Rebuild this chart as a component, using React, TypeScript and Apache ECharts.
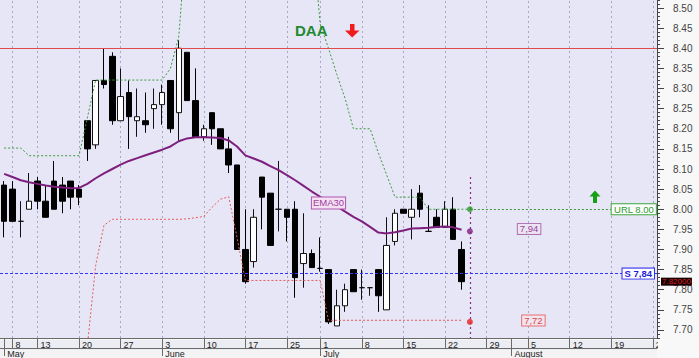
import React, { useEffect, useRef } from 'react';
import * as echarts from 'echarts';

const FONT = '"Liberation Sans", Arial, sans-serif';

// trading days (2013), including the empty future part of the axis
const dates = [
  '05-07', '05-08', '05-09', '05-10', '05-13', '05-14', '05-15', '05-16', '05-17', '05-20',
  '05-21', '05-22', '05-23', '05-24', '05-27', '05-28', '05-29', '05-30', '05-31',
  '06-03', '06-04', '06-05', '06-06', '06-07', '06-10', '06-11', '06-12', '06-13', '06-14',
  '06-17', '06-18', '06-19', '06-20', '06-21', '06-25', '06-26', '06-27', '06-28',
  '07-01', '07-02', '07-03', '07-04', '07-05', '07-08', '07-09', '07-10', '07-11', '07-12',
  '07-15', '07-16', '07-17', '07-18', '07-19', '07-22', '07-23', '07-24', '07-25', '07-26',
  '07-29', '07-30', '07-31',
  '08-01', '08-02', '08-05', '08-06', '08-07', '08-08', '08-09', '08-12', '08-13', '08-14',
  '08-15', '08-16', '08-19', '08-20', '08-21', '08-22', '08-23', '08-26',
];

const weekTicks = [
  '05-08', '05-13', '05-20', '05-27', '06-03', '06-10', '06-17', '06-25',
  '07-01', '07-08', '07-15', '07-22', '07-29', '08-05', '08-12', '08-19', '08-26',
];
const monthStarts = ['05-07', '06-03', '07-01', '08-01'];
const monthNames = ['May', 'June', 'July', 'August'];

const opens = [
  8.06, 8.05, 7.97, 8.00, 8.07, 8.02, 8.07, 8.06, 8.07, 8.05,
  8.22, 8.16, 8.32, 8.38, 8.22, 8.29, 8.22, 8.22, 8.25, 8.26,
  8.32, 8.24, 8.39, 8.27, 8.18, 8.24, 8.20, 8.15, 8.11, 7.90,
  7.87, 8.08, 8.04, 8.00, 8.00, 8.00, 7.865, 7.89, 7.853, 7.85,
  7.71, 7.76, 7.85, 7.805, 7.805, 7.85, 7.75, 7.92, 8.00, 7.98,
  8.04, 7.945, 7.98, 7.955, 8.00, 7.90,
];
const closes = [
  7.97, 7.97, 7.97, 8.02, 8.02, 7.98, 8.00, 8.02, 8.03, 8.03,
  8.15, 8.32, 8.31, 8.22, 8.28, 8.23, 8.23, 8.21, 8.26, 8.29,
  8.20, 8.40, 8.27, 8.18, 8.20, 8.20, 8.15, 8.11, 7.90, 7.82,
  7.98, 8.03, 7.91, 8.00, 7.98, 7.83, 7.89, 7.855, 7.853, 7.72,
  7.76, 7.80, 7.795, 7.805, 7.805, 7.785, 7.91, 7.99, 7.99, 8.00,
  8.00, 7.945, 7.955, 8.00, 7.925, 7.82,
];
const lows = [
  7.93, 7.97, 7.93, 8.00, 8.00, 7.98, 8.00, 7.99, 8.00, 8.01,
  8.12, 8.15, 8.30, 8.21, 8.22, 8.15, 8.18, 8.19, 8.20, 8.21,
  8.19, 8.17, 8.27, 8.18, 8.17, 8.16, 8.15, 8.09, 7.90, 7.815,
  7.855, 7.95, 7.91, 7.945, 7.92, 7.78, 7.805, 7.855, 7.845, 7.715,
  7.71, 7.745, 7.795, 7.775, 7.785, 7.745, 7.75, 7.91, 7.99, 7.925,
  7.98, 7.945, 7.955, 7.955, 7.925, 7.80,
];
const highs = [
  8.07, 8.07, 8.02, 8.09, 8.08, 8.06, 8.12, 8.08, 8.07, 8.06,
  8.22, 8.32, 8.40, 8.39, 8.35, 8.32, 8.30, 8.29, 8.30, 8.31,
  8.32, 8.42, 8.39, 8.35, 8.21, 8.24, 8.20, 8.18, 8.11, 8.00,
  8.00, 8.08, 8.04, 8.12, 8.00, 8.02, 7.99, 7.90, 7.93, 7.85,
  7.80, 7.815, 7.85, 7.85, 7.805, 7.85, 7.98, 8.00, 8.00, 8.05,
  8.06, 8.01, 8.00, 8.02, 8.03, 7.92,
];

const ema30 = [
  8.088, 8.080, 8.072, 8.067, 8.063, 8.059, 8.056, 8.054, 8.052, 8.053,
  8.063, 8.077, 8.089, 8.100, 8.111, 8.120, 8.127, 8.134, 8.141, 8.148,
  8.156, 8.169, 8.176, 8.179, 8.179, 8.178, 8.177, 8.171, 8.156, 8.134,
  8.126, 8.118, 8.107, 8.097, 8.085, 8.072, 8.058, 8.044, 8.031, 8.019,
  8.007, 7.994, 7.981, 7.970, 7.956, 7.942, 7.940, 7.943, 7.947, 7.952,
  7.953, 7.954, 7.956, 7.957, 7.955, 7.949,
];

// upper (green) trailing stop; values above 8.52 run off the top of the chart
const upperStop = [
  8.152, 8.152, 8.152, 8.133, 8.133, 8.133, 8.133, 8.133, 8.133, 8.133,
  8.227, 8.321, 8.321, 8.321, 8.321, 8.321, 8.321, 8.321, 8.321, 8.321,
  8.35, 8.43, 8.7, 8.7, 8.7, 8.7, 8.7, 8.7, 8.7, 8.7,
  8.7, 8.7, 8.7, 8.7, 8.7, 8.7, 8.7, 8.7, 8.46, 8.40,
  8.335, 8.275, 8.20, 8.20, 8.20, 8.14, 8.085, 8.03, 8.03, 8.03,
  8.03, 8.00, 8.00, 8.00, 8.00, 8.00, 8.00,
];

// lower (red) trailing stop
const lowerStop = [
  null, null, null, null, null, null, null, null, null, null,
  7.66, 7.86, 7.96, 7.975, 7.975, 7.975, 7.975, 7.975, 7.975, 7.975,
  7.975, 7.975, 7.976, 7.979, 7.982, 8.005, 8.025, 8.031, 7.93, 7.823,
  7.823, 7.823, 7.823, 7.823, 7.823, 7.823, 7.823, 7.823, 7.823, 7.724,
  7.724, 7.724, 7.724, 7.724, 7.724, 7.724, 7.724, 7.724, 7.724, 7.724,
  7.724, 7.724, 7.724, 7.724, 7.724, 7.724,
];

const resistance = 8.40;
const support = 7.84;
const supportLabel = 'S 7,84';
const lastPrice = 7.82;
const lastPriceLabel = '7.82000';
const urlLevel = 8.0;
const urlLabel = 'URL 8.00';
const projDate = '07-25';
const projValues = [8.0, 7.945, 7.72];
const projColors = ['#2c9c2c', '#7e1f7e', '#e82020'];
const projLabels = ['7,94', '7,72'];
const projLabelDates = ['08-05', '08-06'];
const projLabelValues = [7.951, 7.7235];
const emaLabelDate = '07-02';
const emaLabelValue = 8.0156;
const majorTicks = [
  7.70, 7.75, 7.80, 7.85, 7.90, 7.95, 8.00, 8.05, 8.10, 8.15, 8.20, 8.25, 8.30, 8.35, 8.40, 8.45, 8.50,
];

const weekSet = new Set(weekTicks);
const monthSet = new Set(monthStarts);
const dateTickSet = new Set([...weekTicks, ...monthStarts]);

const candleData = opens.map((o, i) => [o, closes[i], lows[i], highs[i]]);

const boxLabel = (text: string, color: string, border: string, bg: string, bold = false) => ({
  show: true,
  position: 'inside',
  formatter: text,
  color,
  borderColor: border,
  borderWidth: 1,
  backgroundColor: bg,
  padding: [1, 2, 0, 2],
  fontSize: 9.5,
  lineHeight: 9,
  fontFamily: FONT,
  fontWeight: bold ? 'bold' : 'normal',
});

const option: any = {
  animation: false,
  backgroundColor: 'transparent',
  textStyle: { fontFamily: FONT },
  grid: {
    left: 0,
    top: 0,
    right: 42,
    bottom: 18,
    show: true,
    backgroundColor: '#E6E6F6',
    borderWidth: 0,
  },
  xAxis: [
    {
      type: 'category',
      data: dates,
      boundaryGap: true,
      position: 'bottom',
      axisLine: { show: true, lineStyle: { color: '#6a6a6a', width: 1 } },
      axisTick: {
        show: true,
        alignWithLabel: true,
        length: 10,
        interval: (_i: number, v: string) => dateTickSet.has(v),
        lineStyle: { color: '#6a6a6a' },
      },
      axisLabel: {
        interval: (_i: number, v: string) => weekSet.has(v),
        formatter: (v: string) => String(parseInt(v.slice(3), 10)),
        align: 'left',
        padding: [0, 0, 0, 3],
        margin: 2,
        fontSize: 9,
        color: '#222',
        fontFamily: FONT,
      },
      splitLine: { show: false },
    },
    {
      type: 'category',
      data: dates,
      boundaryGap: true,
      position: 'bottom',
      offset: 10,
      axisLine: { show: true, lineStyle: { color: '#6a6a6a', width: 1 } },
      axisTick: {
        show: true,
        alignWithLabel: true,
        length: 8,
        interval: (_i: number, v: string) => monthSet.has(v),
        lineStyle: { color: '#6a6a6a' },
      },
      axisLabel: {
        interval: (_i: number, v: string) => monthSet.has(v),
        formatter: (v: string) => monthNames[monthStarts.indexOf(v)],
        align: 'left',
        padding: [0, 0, 0, 3],
        margin: 1,
        fontSize: 9,
        color: '#222',
        fontFamily: FONT,
      },
      splitLine: { show: false },
    },
  ],
  yAxis: [
    {
      type: 'value',
      position: 'right',
      min: 7.68,
      max: 8.52,
      interval: 0.01,
      axisLine: { show: true, lineStyle: { color: '#444', width: 1 } },
      axisTick: { show: true, length: 3, lineStyle: { color: '#444' } },
      axisLabel: { show: false },
      splitLine: { show: false },
    },
    {
      type: 'value',
      position: 'right',
      min: 7.68,
      max: 8.52,
      axisLine: { show: false },
      axisTick: { show: true, length: 7, customValues: majorTicks, lineStyle: { color: '#444' } },
      axisLabel: {
        show: true,
        customValues: majorTicks,
        formatter: (v: number) => v.toFixed(2),
        margin: 16,
        fontSize: 10,
        lineHeight: 8,
        color: '#444',
        fontFamily: FONT,
      },
      splitLine: { show: false },
    },
  ],
  series: [
    {
      type: 'line',
      name: 'gridlines',
      data: [],
      silent: true,
      z: 1,
      markLine: {
        silent: true,
        z: 1,
        symbol: ['none', 'none'],
        label: { show: false },
        lineStyle: { color: '#a6a6bc', type: [2, 3], width: 1 },
        data: weekTicks.map((d) => ({ xAxis: d })),
      },
    },
    {
      type: 'candlestick',
      name: 'DAA',
      data: candleData,
      barWidth: 6,
      z: 2,
      itemStyle: {
        color: '#ffffff',
        color0: '#000000',
        borderColor: '#111111',
        borderColor0: '#000000',
        borderWidth: 1,
      },
      markLine: {
        silent: true,
        z: 6,
        symbol: ['none', 'none'],
        label: { show: false },
        data: [
          { yAxis: resistance, lineStyle: { color: '#e04a4a', type: 'solid', width: 1 } },
          {
            yAxis: support,
            lineStyle: { color: '#3333ff', type: [3, 2], width: 1 },
            label: {
              ...boxLabel(supportLabel, '#1c1cd8', '#3030f0', '#ffffff', true),
              position: 'insideEnd',
              distance: 3,
            },
          },
          {
            yAxis: lastPrice,
            lineStyle: { color: 'rgba(0,0,0,0)', width: 1 },
            label: {
              show: true,
              position: 'end',
              distance: 4,
              formatter: lastPriceLabel,
              color: '#d82020',
              backgroundColor: '#140000',
              padding: [1, 1, 0, 1],
              fontSize: 8,
              lineHeight: 7,
              fontFamily: FONT,
            },
          },
        ],
      },
    },
    {
      type: 'line',
      name: 'upper stop',
      data: upperStop,
      showSymbol: false,
      symbol: 'none',
      clip: true,
      z: 3,
      lineStyle: { color: '#3a9a3a', type: [2, 2], width: 1 },
      markLine: {
        silent: true,
        symbol: ['none', 'none'],
        lineStyle: { color: '#3a9a3a', type: [2, 2], width: 1 },
        label: { show: false },
        data: [
          [
            { coord: [projDate, urlLevel] },
            {
              coord: [dates[dates.length - 1], urlLevel],
              label: {
                ...boxLabel(urlLabel, '#2c9a2c', '#3aa63a', '#ffffff'),
                position: 'insideEnd',
                distance: -3,
              },
            },
          ],
        ],
      },
    },
    {
      type: 'line',
      name: 'lower stop',
      data: lowerStop,
      showSymbol: false,
      symbol: 'none',
      clip: true,
      z: 3,
      lineStyle: { color: '#e85a5a', type: [2, 2], width: 1 },
      markPoint: {
        symbol: 'rect',
        symbolSize: 1,
        itemStyle: { color: 'transparent' },
        data: [
          {
            coord: [projLabelDates[1], projLabelValues[1]],
            label: { ...boxLabel(projLabels[1], '#e04848', '#e87070', '#f0e4ee'), offset: [-3, 0] },
          },
        ],
      },
    },
    {
      type: 'line',
      name: 'EMA30',
      data: ema30,
      showSymbol: false,
      symbol: 'none',
      z: 4,
      lineStyle: { color: '#7e1f7e', width: 2 },
      markPoint: {
        symbol: 'rect',
        symbolSize: 1,
        itemStyle: { color: 'transparent' },
        data: [
          {
            coord: [emaLabelDate, emaLabelValue],
            label: { ...boxLabel('EMA30', '#a040a0', '#b056b0', '#f3e1f3'), padding: [1, 1, 0, 1], lineHeight: 10 },
          },
          {
            coord: [projLabelDates[0], projLabelValues[0]],
            label: { ...boxLabel(projLabels[0], '#9a449a', '#b070b0', '#ece4f2'), offset: [1, 0] },
          },
        ],
      },
    },
    {
      type: 'scatter',
      name: 'projection',
      z: 5,
      symbolSize: 6,
      data: projValues.map((v, i) => ({ value: [projDate, v], itemStyle: { color: projColors[i] } })),
      markLine: {
        silent: true,
        symbol: ['none', 'none'],
        label: { show: false },
        lineStyle: { color: '#8a2a8a', type: [2, 3], width: 1.2 },
        data: [[{ coord: [projDate, 8.08] }, { coord: [projDate, 7.68] }]],
      },
    },
  ],
  graphic: [
    { type: 'rect', z: -1, silent: true, shape: { x: 0, y: 340, width: 657, height: 10 }, style: { fill: '#ECECF3' } },
    { type: 'rect', z: -1, silent: true, shape: { x: 0, y: 350, width: 657, height: 8 }, style: { fill: '#F3F3F3' } },
    // the date band is cut off where the price scale begins
    { type: 'rect', z: 100, silent: true, shape: { x: 658, y: 341, width: 41, height: 17 }, style: { fill: '#F8F8F8' } },
    {
      type: 'text',
      left: 295,
      top: 23,
      z: 10,
      style: { text: 'DAA', fill: '#1f8a30', font: `bold 15px ${FONT}` },
    },
    {
      type: 'polygon',
      z: 10,
      shape: {
        points: [
          [350, 24], [354.5, 24], [354.5, 30.5], [359.5, 30.5], [352.2, 37.5], [345, 30.5], [350, 30.5],
        ],
      },
      style: { fill: '#ee1c1c' },
    },
    {
      type: 'polygon',
      z: 10,
      shape: {
        points: [
          [595, 190.5], [600.5, 196.5], [597, 196.5], [597, 203], [593, 203], [593, 196.5], [589.5, 196.5],
        ],
      },
      style: { fill: '#16a016' },
    },
  ],
};

export default function App() {
  const ref = useRef<HTMLDivElement>(null);
  useEffect(() => {
    if (!ref.current) return;
    const chart = echarts.init(ref.current, null, { renderer: 'svg' });
    chart.setOption(option);
    return () => {
      chart.dispose();
    };
  }, []);
  return (
    <div
      ref={ref}
      style={{ position: 'absolute', left: 0, top: 0, width: 699, height: 358, background: '#F8F8F8' }}
    />
  );
}
